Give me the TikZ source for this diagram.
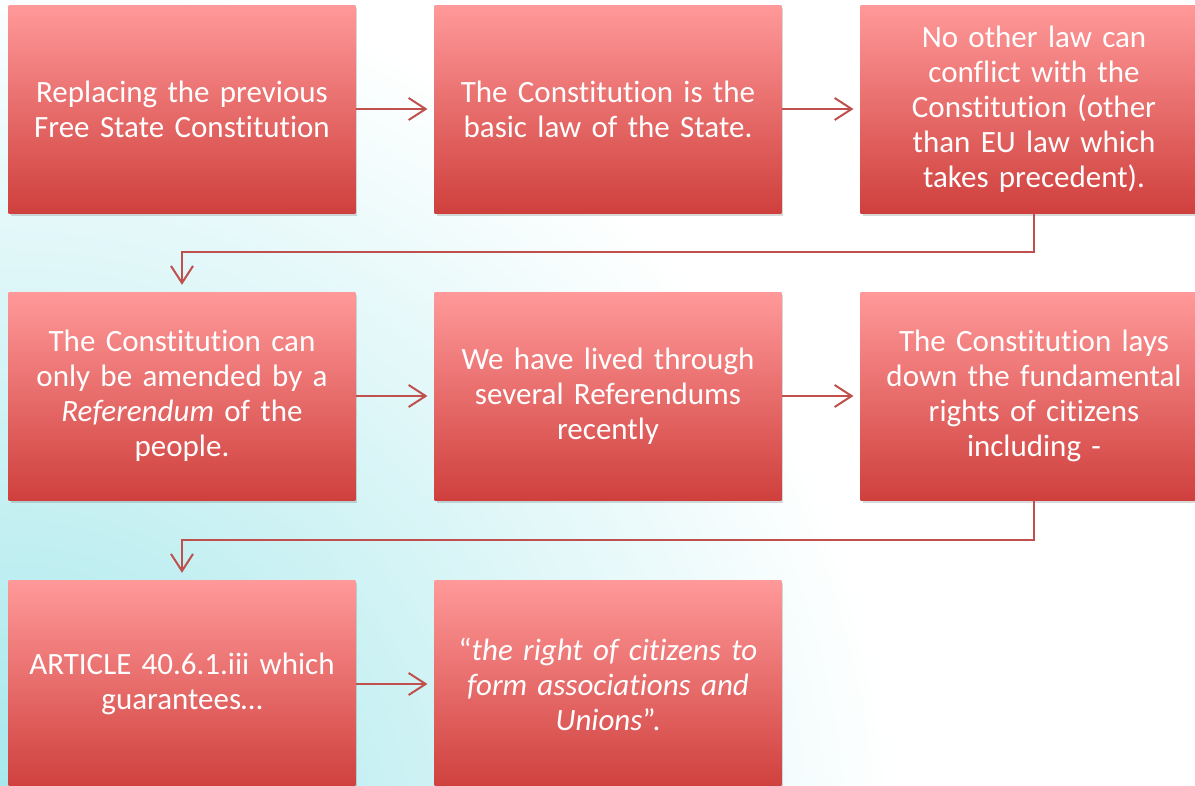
\documentclass[tikz,border=0pt]{standalone}
\usepackage{fontspec}
\setmainfont{Carlito}[RawFeature=-liga]
\usetikzlibrary{arrows.meta,shadows,positioning}

\definecolor{boxtop}{RGB}{255,153,153}
\definecolor{boxmid}{RGB}{234,112,110}
\definecolor{boxbot}{RGB}{207,64,61}
\definecolor{linkred}{RGB}{192,80,77}
\definecolor{bgcyan}{RGB}{160,230,234}

\tikzset{
  stepbox/.style={rectangle,minimum width=346bp,minimum height=208bp,text width=340bp,
    align=center,text=white,font=\fontsize{31bp}{35bp}\selectfont,
    top color=boxtop,middle color=boxmid,bottom color=boxbot,
    drop shadow={shadow xshift=2bp,shadow yshift=-3bp,opacity=0.25,fill=black!60}},
  link/.style={-{Straight Barb[length=17bp,width=22bp]},line width=2bp,draw=linkred,shorten >=7bp},
}

\begin{document}
\begin{tikzpicture}

\useasboundingbox (0,0) rectangle (1195bp,-786bp);
\clip (0,0) rectangle (1195bp,-786bp);
\fill[white] (0,0) rectangle (1195bp,-786bp);
\shade[inner color=bgcyan,outer color=white] (0,-860bp) circle (900bp);

\node (B11) at (182bp,-109bp)[stepbox] {Replacing the previous\\Free State Constitution};
\node (B12) at (608bp,-109bp)[stepbox] {The Constitution is the\\basic law of the State.};
\node (B13) at (1034bp,-109bp)[stepbox] {No other law can\\conflict with the\\Constitution (other\\than EU law which\\takes precedent).};
\node (B21) at (182bp,-396bp)[stepbox] {The Constitution can\\only be amended by a\\\textit{Referendum} of the\\people.};
\node (B22) at (608bp,-396bp)[stepbox] {We have lived through\\several Referendums\\recently};
\node (B23) at (1034bp,-396bp)[stepbox] {The Constitution lays\\down the fundamental\\rights of citizens\\including -};
\node (B31) at (182bp,-684bp)[stepbox] {ARTICLE 40.6.1.iii which\\guarantees\dots};
\node (B32) at (608bp,-684bp)[stepbox] {“\textit{the right of citizens to}\\\textit{form associations and}\\\textit{Unions}”.};

\draw [link] (B11) -- (B12);
\draw [link] (B12) -- (B13);
\draw [link] (B13.south) -- ++(0,-39bp) -| (B21.north);
\draw [link] (B21) -- (B22);
\draw [link] (B22) -- (B23);
\draw [link] (B23.south) -- ++(0,-40bp) -| (B31.north);
\draw [link] (B31) -- (B32);
\end{tikzpicture}
\end{document}
